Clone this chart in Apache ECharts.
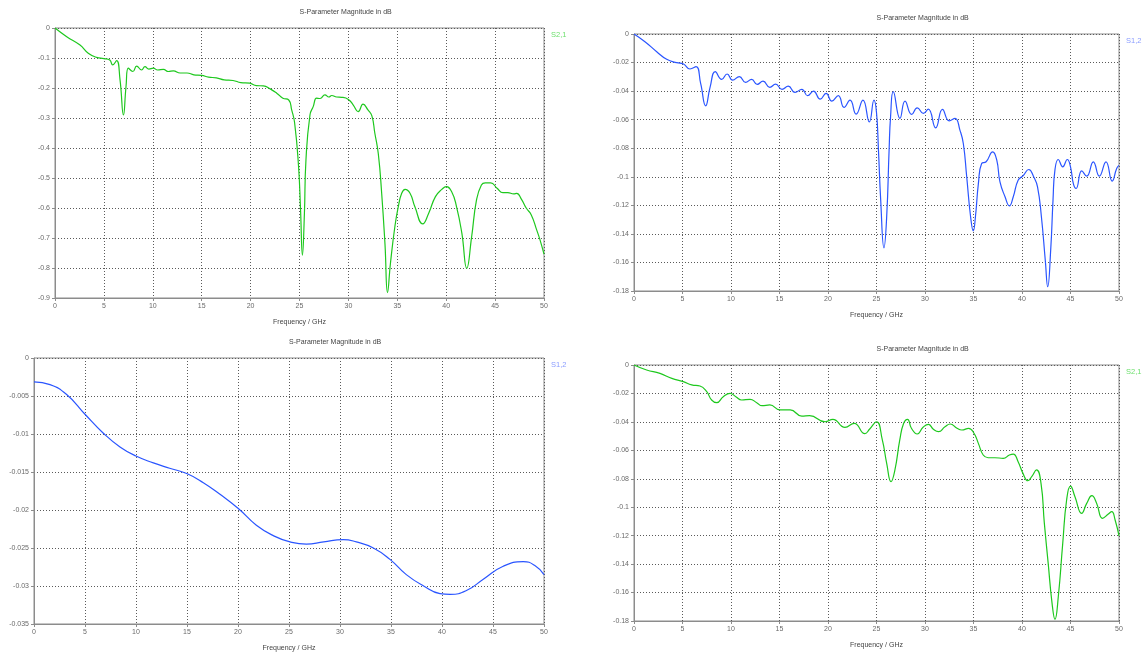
<!DOCTYPE html>
<html>
<head>
<meta charset="utf-8">
<title>S-Parameter Magnitude in dB</title>
<script src="https://cdn.jsdelivr.net/npm/echarts@6/dist/echarts.min.js"></script>
<style>
  html, body { margin: 0; padding: 0; background: #fff; }
  #chart { width: 1143px; height: 653px; }
</style>
</head>
<body>
<div id="chart"></div>
<script>
// Frequency axis ticks (GHz), shared by all four plots
const freqTicks = [0, 5, 10, 15, 20, 25, 30, 35, 40, 45, 50];

// Plot A: S2,1 (dB)
const aFreq = [0, 1.2, 2.56, 3.4, 4.26, 5.0, 5.6, 5.9, 6.3, 6.65, 7.0, 7.26, 7.5, 7.96, 8.35, 8.86, 9.2, 9.6, 10.05, 10.5,
  11.08, 11.6, 12.1, 12.8, 13.5, 14.2, 15.0, 15.7, 16.5, 17.3, 18.2, 19.0, 19.9, 20.6, 21.3, 22.0, 22.7, 23.3, 23.9, 24.2,
  24.5, 24.9, 25.1, 25.3, 25.5, 25.66, 26.07, 26.4, 26.75, 27.1, 27.6, 28.0, 28.3, 28.8, 29.3, 30.0, 30.5, 31.0, 31.5, 32.0,
  32.4, 32.7, 33.06, 33.4, 33.74, 34.0, 34.3, 34.76, 35.1, 35.45, 35.8, 36.3, 36.8, 37.6, 38.2, 38.9, 39.55, 40.0, 40.56, 41.06,
  41.6, 42.1, 42.6, 43.1, 43.6, 44.0, 44.55, 45.2, 45.8, 46.3, 46.9, 47.2, 47.7, 48.2, 48.7, 49.25, 49.6, 50];
const aMag = [0, -0.029, -0.057, -0.084, -0.098, -0.102, -0.107, -0.123, -0.109, -0.173, -0.29, -0.196, -0.134, -0.145, -0.127, -0.14, -0.129, -0.137, -0.134, -0.14,
  -0.138, -0.145, -0.143, -0.15, -0.15, -0.156, -0.158, -0.164, -0.166, -0.173, -0.175, -0.182, -0.184, -0.192, -0.193, -0.203, -0.218, -0.234, -0.24, -0.273,
  -0.316, -0.46, -0.6, -0.757, -0.62, -0.44, -0.29, -0.262, -0.234, -0.235, -0.223, -0.23, -0.225, -0.23, -0.231, -0.238, -0.257, -0.279, -0.254, -0.273,
  -0.293, -0.35, -0.42, -0.55, -0.72, -0.882, -0.784, -0.66, -0.596, -0.551, -0.538, -0.551, -0.596, -0.653, -0.618, -0.562, -0.538, -0.529, -0.546, -0.596,
  -0.684, -0.801, -0.696, -0.573, -0.523, -0.516, -0.516, -0.534, -0.549, -0.549, -0.553, -0.551, -0.571, -0.601, -0.623, -0.673, -0.707, -0.754];

// Plot B: S1,2 (dB)
const bFreq = [0, 1.13, 2.34, 3.37, 4.4, 5.1, 5.77, 6.4, 6.87, 7.39, 7.84, 8.38, 9.04, 9.6, 10.17, 10.86, 11.5, 12.13, 12.7, 13.3,
  14.0, 14.6, 15.26, 15.9, 16.6, 17.3, 17.9, 18.5, 19.2, 19.8, 20.4, 21.06, 21.65, 22.27, 22.9, 23.6, 24.26, 24.74, 25.0, 25.2,
  25.43, 25.77, 26.05, 26.3, 26.45, 26.73, 27.42, 27.94, 28.63, 29.2, 29.83, 30.34, 31.1, 31.8, 32.5, 33.1, 33.6, 33.95, 34.3, 34.7,
  34.98, 35.2, 35.5, 35.84, 36.3, 36.98, 37.4, 37.73, 38.25, 38.7, 39.1, 39.6, 40.1, 40.7, 41.2, 41.6, 42.0, 42.4, 42.65, 42.96,
  43.2, 43.4, 43.74, 44.2, 44.67, 45.0, 45.3, 45.57, 46.16, 46.67, 47.35, 47.97, 48.66, 49.3, 49.76, 50];
const bMag = [0, -0.0054, -0.0124, -0.0177, -0.0201, -0.021, -0.0245, -0.0229, -0.0346, -0.0503, -0.0374, -0.0264, -0.0318, -0.028, -0.0323, -0.0299, -0.0339, -0.0318, -0.0353, -0.033,
  -0.0374, -0.0351, -0.0388, -0.0365, -0.0409, -0.0388, -0.0432, -0.04, -0.0456, -0.0416, -0.047, -0.0432, -0.0514, -0.0463, -0.0561, -0.0463, -0.0615, -0.0463, -0.055, -0.081,
  -0.116, -0.1498, -0.128, -0.081, -0.058, -0.0404, -0.0591, -0.047, -0.0563, -0.0517, -0.0556, -0.0526, -0.0657, -0.0528, -0.0608, -0.0591, -0.0673, -0.0767, -0.1, -0.128,
  -0.1379, -0.128, -0.105, -0.0907, -0.0895, -0.0825, -0.0884, -0.1036, -0.114, -0.1204, -0.114, -0.1024, -0.0994, -0.0949, -0.1, -0.107, -0.128, -0.1585, -0.177, -0.151,
  -0.116, -0.095, -0.0879, -0.093, -0.0879, -0.093, -0.105, -0.1082, -0.0959, -0.0996, -0.0895, -0.0996, -0.0895, -0.103, -0.0942, -0.092];

// Plot C: S1,2 (dB)
const cFreq = [0, 1.57, 3.2, 5, 6.8, 8.43, 10, 11.7, 13.3, 14.97, 16.6, 18.2, 20.03, 21.8, 23.5, 25.1, 26.7, 28.4, 30.3, 31.6,
  33.27, 34.9, 36.5, 38.2, 39.8, 40.8, 42.4, 44.05, 46, 47.97, 49.1, 50];
const cMag = [-0.00314, -0.0035, -0.0048, -0.0074, -0.0099, -0.0117, -0.0129, -0.0138, -0.0145, -0.0152, -0.0164, -0.0179, -0.0198, -0.022, -0.0234, -0.0242, -0.0245, -0.0242, -0.0239, -0.0242,
  -0.025, -0.0265, -0.0285, -0.03, -0.031, -0.0311, -0.0306, -0.0291, -0.0274, -0.0268, -0.0273, -0.0285];

// Plot D: S2,1 (dB)
const dFreq = [0, 1.3, 2.68, 3.9, 5.08, 5.95, 6.8, 7.5, 8.0, 8.53, 9.2, 9.9, 10.5, 11.1, 11.96, 12.65, 13.2, 14.0, 15.05, 16.1,
  17.3, 18.1, 19.7, 20.5, 21.75, 22.7, 23.8, 24.3, 25.0, 25.6, 26.05, 26.5, 26.9, 27.4, 27.8, 28.2, 28.6, 29.2, 29.8, 30.35,
  30.86, 31.4, 32.06, 32.6, 33.3, 33.8, 34.5, 35.05, 35.5, 36.0, 36.5, 37.2, 38.07, 38.7, 39.1, 39.6, 40.1, 40.6, 41.0, 41.5,
  41.96, 42.3, 42.7, 43.1, 43.4, 43.74, 44.2, 44.6, 45.0, 45.46, 46.15, 46.67, 47.2, 47.7, 48.3, 48.9, 49.25, 49.6, 50];
const dMag = [0, -0.0035, -0.0059, -0.0094, -0.0117, -0.014, -0.0148, -0.0188, -0.0246, -0.0265, -0.0223, -0.0199, -0.0223, -0.0246, -0.0241, -0.0265, -0.0286, -0.0281, -0.0316, -0.0316,
  -0.0359, -0.0356, -0.0399, -0.0382, -0.0438, -0.041, -0.0483, -0.045, -0.0399, -0.0527, -0.0691, -0.082, -0.0738, -0.0527, -0.041, -0.0382, -0.0445, -0.0485, -0.0438, -0.0417,
  -0.0452, -0.0469, -0.0434, -0.0415, -0.0445, -0.0457, -0.0445, -0.048, -0.0551, -0.0633, -0.0652, -0.0652, -0.0656, -0.0633, -0.0626, -0.068, -0.0762, -0.0814, -0.0785, -0.0738,
  -0.0832, -0.111, -0.1395, -0.1676, -0.1788, -0.163, -0.1254, -0.0949, -0.0851, -0.0926, -0.1043, -0.0973, -0.0919, -0.0973, -0.1078, -0.1048, -0.1031, -0.109, -0.1202];

const GREEN = '#1ec81e';
const BLUE = '#2a55ff';
const FONT = 'Liberation Sans, Arial, sans-serif';

const panels = [
  { name: 'S2,1', freq: aFreq, mag: aMag, color: GREEN, legendColor: '#6ee06e', min: -0.9, step: 0.1, box: [55, 28, 489, 270] },
  { name: 'S1,2', freq: bFreq, mag: bMag, color: BLUE, legendColor: '#8a9cff', min: -0.18, step: 0.02, box: [634, 34, 485, 257] },
  { name: 'S1,2', freq: cFreq, mag: cMag, color: BLUE, legendColor: '#8a9cff', min: -0.035, step: 0.005, box: [34, 358, 510, 271] },
  { name: 'S2,1', freq: dFreq, mag: dMag, color: GREEN, legendColor: '#6ee06e', min: -0.18, step: 0.02, box: [634, 365, 485, 256] }
];

const gridLine = { show: true, lineStyle: { color: '#5a5a5a', type: [1, 2], width: 1 } };
const axisLine = { show: true, onZero: false, lineStyle: { color: '#8c8c8c', width: 1 } };
const axisTick = { show: true, length: 3, lineStyle: { color: '#8c8c8c' } };
const tickLabel = { color: '#6a6a6a', fontSize: 7, fontFamily: FONT };

const option = {
  animation: false,
  backgroundColor: '#ffffff',
  grid: [], xAxis: [], yAxis: [], series: [], graphic: []
};

panels.forEach((p, i) => {
  const [left, top, width, height] = p.box;
  option.grid.push({ left, top, width, height, show: true, borderColor: '#8c8c8c', borderWidth: 1, containLabel: false });
  option.xAxis.push({
    type: 'value', gridIndex: i, min: freqTicks[0], max: freqTicks[freqTicks.length - 1], interval: freqTicks[1] - freqTicks[0],
    name: 'Frequency / GHz', nameLocation: 'middle', nameGap: 21,
    nameTextStyle: { color: '#444', fontSize: 7, fontFamily: FONT },
    axisLine, axisTick, splitLine: gridLine,
    axisLabel: Object.assign({ margin: 5 }, tickLabel)
  });
  option.yAxis.push({
    type: 'value', gridIndex: i, min: p.min, max: 0, interval: p.step,
    axisLine, axisTick, splitLine: gridLine,
    axisLabel: Object.assign({ margin: 5 }, tickLabel)
  });
  option.series.push({
    type: 'line', name: p.name, xAxisIndex: i, yAxisIndex: i,
    data: p.freq.map((f, k) => [f, p.mag[k]]),
    showSymbol: false, smooth: 0.5,
    lineStyle: { color: p.color, width: 1.2 },
    itemStyle: { color: p.color }
  });
  option.graphic.push({
    type: 'text', left: left + width / 2, top: top - 19,
    style: { text: 'S-Parameter Magnitude in dB', fill: '#444', font: '7px ' + FONT, textAlign: 'center' }
  });
  option.graphic.push({
    type: 'text', left: left + width + 7, top: top + 3,
    style: { text: p.name, fill: p.legendColor, font: '7.5px ' + FONT }
  });
});

const chart = echarts.init(document.getElementById('chart'), null, { renderer: 'canvas' });
chart.setOption(option);
</script>
</body>
</html>
